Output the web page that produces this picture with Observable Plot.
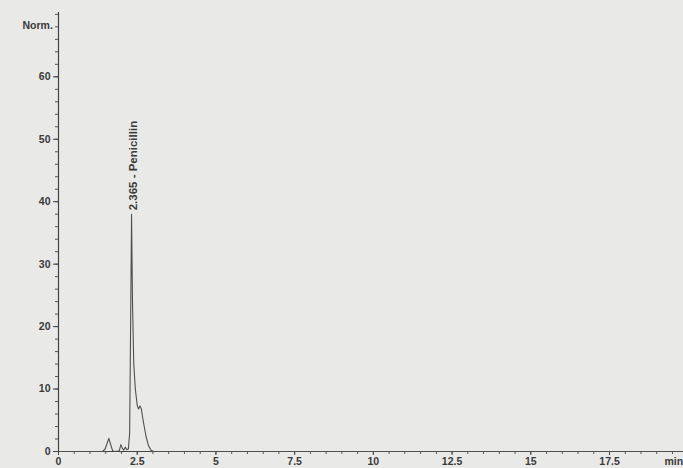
<!DOCTYPE html>
<html>
<head>
<meta charset="utf-8">
<script src="https://cdn.jsdelivr.net/npm/d3@7"></script>
<script src="https://cdn.jsdelivr.net/npm/@observablehq/plot@0.6"></script>
<style>
  html, body { margin: 0; padding: 0; background: #e9e9e7; }
  #chart { width: 683px; height: 468px; }
</style>
</head>
<body>
<div id="chart"></div>
<script>
// Retention time (min) and detector signal (Norm.)
const times  = [0, 1.40, 1.48, 1.55, 1.60, 1.65, 1.72, 1.80, 1.93, 1.98, 2.03, 2.07, 2.12, 2.17, 2.22, 2.26, 2.29, 2.32, 2.35, 2.39, 2.44, 2.50, 2.54, 2.59, 2.63, 2.70, 2.78, 2.86, 2.94, 3.02, 19.85];
const signal = [0, 0,    0.4,  1.4,  2.1,  1.2,  0.1,  0,    0.1,  1.1,  0.5,  0.2,  0.7,  0.3,  0.4,  3,    20,   38,   24,   14,   10,   7.4,  6.8,  7.3,  6.8,  4.6,  2.4,  0.9,  0.2,  0,    0];

const xMajor = [0, 2.5, 5, 7.5, 10, 12.5, 15, 17.5];
const xMajorLabels = ["0", "2.5", "5", "7.5", "10", "12.5", "15", "17.5"];
const xMinor = d3.range(0, 19.85, 0.5);
const yMajor = [0, 10, 20, 30, 40, 50, 60];
const yMinor = d3.range(0, 70.3, 2);

const peakLabels = [{t: 2.365, v: 38.3, text: "2.365 - Penicillin"}];

const data = times.map((t, i) => ({t, v: signal[i]}));
const ink = "#3a3a3a";

const chart = Plot.plot({
  width: 683,
  height: 468,
  marginLeft: 58,
  marginRight: 0,
  marginTop: 12,
  marginBottom: 17,
  style: {background: "#e9e9e7", fontFamily: "'Liberation Sans', Arial, sans-serif", fontSize: "10.5px", fontWeight: "bold", color: ink},
  x: {domain: [0, 19.85]},
  y: {domain: [0, 70.3]},
  marks: [
    Plot.axisX({ticks: xMinor, tickSize: 3, text: null, label: null, stroke: "#555"}),
    Plot.axisX({ticks: xMajor, tickSize: 4, tickPadding: 2, tickFormat: (d) => xMajorLabels[xMajor.indexOf(d)], label: null, stroke: "#444", fill: ink}),
    Plot.axisY({ticks: yMinor, tickSize: 3, text: null, label: null, stroke: "#555"}),
    Plot.axisY({ticks: yMajor, tickSize: 5, tickPadding: 3, label: null, stroke: "#444", fill: ink}),
    Plot.ruleX([0], {stroke: "#444", strokeWidth: 1.2}),
    Plot.ruleY([0], {stroke: "#444", strokeWidth: 1.2}),
    Plot.line(data, {x: "t", y: "v", stroke: "#505050", strokeWidth: 1.1}),
    Plot.text(peakLabels, {x: "t", y: "v", text: "text", rotate: -90, textAnchor: "start", dy: -2, fill: ink, fontSize: 11.5, fontWeight: "bold"}),
    Plot.text(["Norm."], {frameAnchor: "top-left", dx: -36, dy: 9, textAnchor: "start", fill: ink, fontSize: 10.5, fontWeight: "bold"}),
    Plot.text(["min"], {frameAnchor: "bottom-right", dx: -19, dy: 13, textAnchor: "start", fill: ink, fontSize: 10.5, fontWeight: "bold"})
  ]
});
document.getElementById("chart").append(chart);
</script>
</body>
</html>
